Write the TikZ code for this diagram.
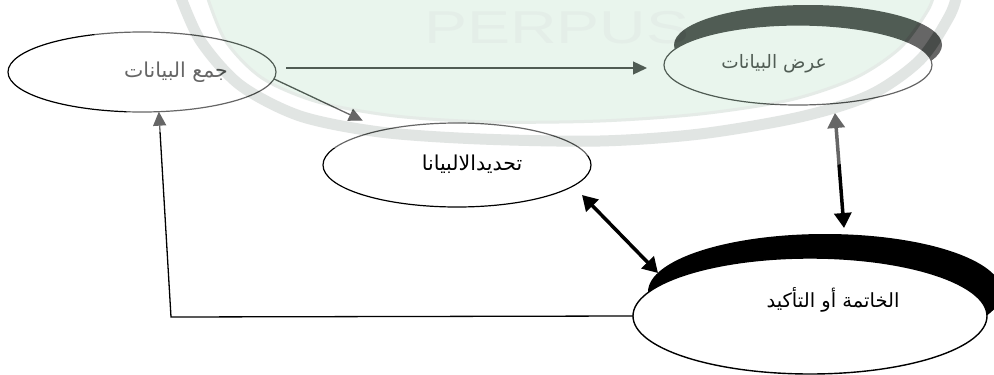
\documentclass[tikz,border=0pt]{standalone}
\usepackage{fontspec}
\setmainfont{Liberation Sans}
\TeXXeTstate=1
\newfontfamily\arabicfont[Script=Arabic]{DejaVu Sans}
\usetikzlibrary{shapes.geometric,arrows.meta}
\definecolor{wmgreen}{RGB}{200,230,210}
\definecolor{wmrim}{RGB}{182,190,185}
\definecolor{wmedge}{RGB}{190,205,195}
\definecolor{wmtextc}{RGB}{188,213,198}
\tikzset{
  bigtip/.tip={Triangle[length=15pt,width=17pt]},
  smalltip/.tip={Triangle[length=14pt,width=13pt]}
}
\begin{document}
\begin{tikzpicture}[x=1pt,y=-1pt,
  el/.style={ellipse, inner sep=0pt, outer sep=0pt, fill=white},
  lab/.style={inner sep=0pt, font=\arabicfont\fontsize{18.5}{22}\selectfont},
  conn/.style={line width=1.3pt, color=black},
  tipthin/.style={-smalltip},
  thickconn/.style={line width=3.5pt, black, bigtip-bigtip}
]
\useasboundingbox (0,0) rectangle (994,375);
\fill[white] (0,0) rectangle (994,375);

% shadows
\fill[black] (808,45) ellipse [x radius=134pt, y radius=40pt];
\fill[black] (825,292) ellipse [x radius=177pt, y radius=58pt];

% ellipses
\node[el, draw=black, line width=1.2pt, minimum width=268pt, minimum height=80pt] (A) at (142,72) {};
\node[el, draw=black, line width=1.2pt, minimum width=268pt, minimum height=80pt] (B) at (798,65) {};
\node[el, draw=black, line width=1.2pt, minimum width=268pt, minimum height=84pt] (C) at (457,165) {};
\node[el, draw=black, line width=1.4pt, minimum width=354pt, minimum height=116pt] (D) at (810,316) {};

% labels
\node[lab, font=\arabicfont\fontsize{20.5}{24}\selectfont] (At) at (176,72) {\beginR جمع البيانات\endR};
\node[lab] (Bt) at (774,64) {\beginR عرض البيانات\endR};
\node[lab, font=\arabicfont\fontsize{20.5}{24}\selectfont] (Ct) at (472,164) {\beginR تحديدالالبيانا\endR};
\node[lab, font=\arabicfont\fontsize{19.5}{23}\selectfont] (Dt) at (833,300) {\beginR الخاتمة أو التأكيد\endR};

% connectors
\coordinate (corner) at (171,317);
\draw[conn, tipthin] ([shift={(10,-4)}]A.east) -- ([shift={(-17,3)}]B.west);
\draw[conn, tipthin, shorten >=22pt] (A.-3.5) -- (C);
\draw[conn, tipthin] (D.west) -- (corner) -- (A.-67);
\draw[thickconn] ([shift={(-9,30)}]C.east) -- ([shift={(25,-43)}]D.west);
\draw[thickconn] ([shift={(37,8)}]B.south) -- ([shift={(34,-30)}]D.north);

% watermark overlay
\begin{scope}[transparency group, opacity=0.4]
\clip (0,0) rectangle (994,375);
\fill[white] plot[smooth] coordinates {(85,-10) (100,55) (125,110) (170,135) (250,144) (340,148) (457,150) (600,156) (720,160) (835,165) (905,140) (955,95) (985,30) (994,-10)} -- cycle;
\draw[wmrim, line width=11pt] plot[smooth] coordinates {(178,-10) (200,40) (240,85) (300,116) (380,132) (480,139) (600,141) (700,134) (800,117) (870,95) (920,60) (950,15) (958,-10)};
\fill[wmgreen] plot[smooth] coordinates {(205,-10) (225,40) (262,78) (318,102) (395,116) (490,122) (600,121) (700,114) (790,100) (855,78) (900,48) (928,10) (935,-10)} -- cycle;
\draw[wmedge, line width=3pt] plot[smooth] coordinates {(205,-10) (225,40) (262,78) (318,102) (395,116) (490,122) (600,121) (700,114) (790,100) (855,78) (900,48) (928,10) (935,-10)};
\node[text=wmtextc, font=\fontsize{46}{46}\selectfont, inner sep=0pt, anchor=base, xscale=1.4] (wm) at (557,43) {PERPUS};
\end{scope}
\end{tikzpicture}
\end{document}
